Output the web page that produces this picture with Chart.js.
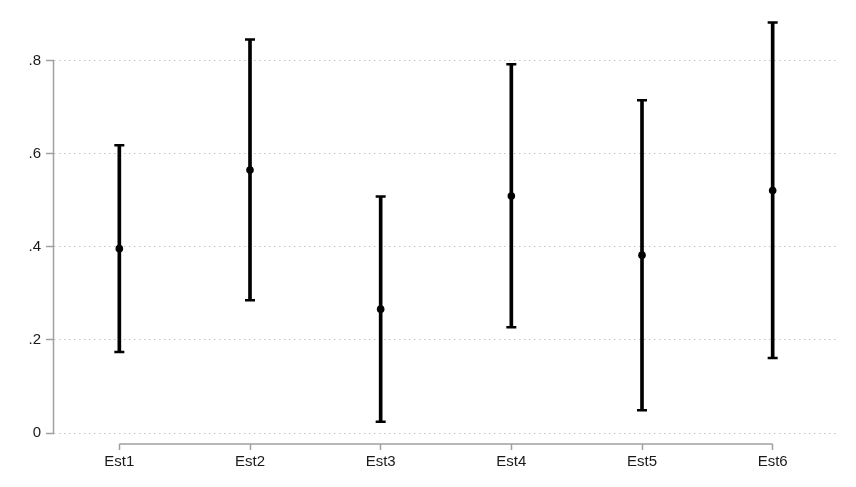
<!DOCTYPE html>
<html>
<head>
<meta charset="utf-8">
<script src="https://cdn.jsdelivr.net/npm/chart.js@4"></script>
<style>
  html, body { margin: 0; padding: 0; background: #fff; }
</style>
</head>
<body>
<canvas id="myChart" width="856" height="487"></canvas>
<script>
// estimates with confidence bounds
var labels = ['Est1', 'Est2', 'Est3', 'Est4', 'Est5', 'Est6'];
var estimates = [0.396, 0.565, 0.266, 0.509, 0.382, 0.521];
var lower = [0.174, 0.285, 0.024, 0.227, 0.049, 0.161];
var upper = [0.618, 0.845, 0.508, 0.792, 0.715, 0.882];
var yTicks = [0, 0.2, 0.4, 0.6, 0.8];

var ranges = labels.map(function (l, i) { return [lower[i], upper[i]]; });

// stata-ish axis lines that only run between the first and last tick
var axisLines = {
  id: 'axisLines',
  afterDraw: function (chart) {
    var c = chart.ctx, x = chart.scales.x, y = chart.scales.y;
    var area = chart.chartArea;
    c.save();
    c.strokeStyle = '#a0a0a0';
    c.lineWidth = 1.5;
    c.beginPath();
    c.moveTo(area.left - 0.5, y.getPixelForValue(yTicks[0]));
    c.lineTo(area.left - 0.5, y.getPixelForValue(yTicks[yTicks.length - 1]));
    c.moveTo(x.getPixelForTick(0), area.bottom);
    c.lineTo(x.getPixelForTick(labels.length - 1), area.bottom);
    c.stroke();
    c.restore();
  }
};

var ctx = document.getElementById('myChart').getContext('2d');
var myChart = new Chart(ctx, {
  type: 'bar',
  data: {
    labels: labels,
    datasets: [{
        type: 'line',
        data: estimates,
        showLine: false,
        pointRadius: 3.8,
        pointBackgroundColor: '#000',
        pointBorderColor: '#000',
        pointBorderWidth: 0,
        order: 0
      }, {
        type: 'line',
        data: upper,
        showLine: false,
        pointStyle: 'line',
        pointRadius: 5,
        pointBorderWidth: 2.5,
        pointBorderColor: '#000',
        order: 1
      }, {
        type: 'line',
        data: lower,
        showLine: false,
        pointStyle: 'line',
        pointRadius: 5,
        pointBorderWidth: 2.5,
        pointBorderColor: '#000',
        order: 1
      }, {
        data: ranges,
        backgroundColor: '#000',
        barThickness: 3,
        borderSkipped: false,
        order: 2
      }
    ]
  },
  options: {
    responsive: false,
    animation: false,
    devicePixelRatio: 1,
    layout: { padding: { top: 13, right: 18, left: 0, bottom: 0 } },
    plugins: {
      legend: { display: false },
      tooltip: { enabled: false }
    },
    scales: {
      x: {
        offset: true,
        grid: {
          offset: false,
          drawOnChartArea: false,
          tickLength: 6,
          tickColor: '#a0a0a0',
          tickWidth: 1.5
        },
        border: { display: false },
        ticks: {
          color: '#1a1a1a',
          padding: 3,
          font: { family: 'Liberation Sans', size: 15 }
        },
        afterFit: function (s) { s.height = 43; }
      },
      y: {
        min: -0.0236,
        max: 0.9,
        afterBuildTicks: function (s) {
          s.ticks = yTicks.map(function (v) { return { value: v }; });
        },
        grid: {
          color: '#c4c4c4',
          lineWidth: 1,
          tickLength: 8,
          tickColor: '#a0a0a0',
          tickWidth: 1.5,
          tickBorderDash: []
        },
        border: { display: false, dash: [1.5, 3.5] },
        ticks: {
          color: '#1a1a1a',
          padding: 5,
          font: { family: 'Liberation Sans', size: 15 },
          callback: function (v) {
            return v === 0 ? '0' : String(v).replace(/^0\./, '.');
          }
        },
        afterFit: function (s) { s.width = 54; }
      }
    }
  },
  plugins: [axisLines]
});
</script>
</body>
</html>
